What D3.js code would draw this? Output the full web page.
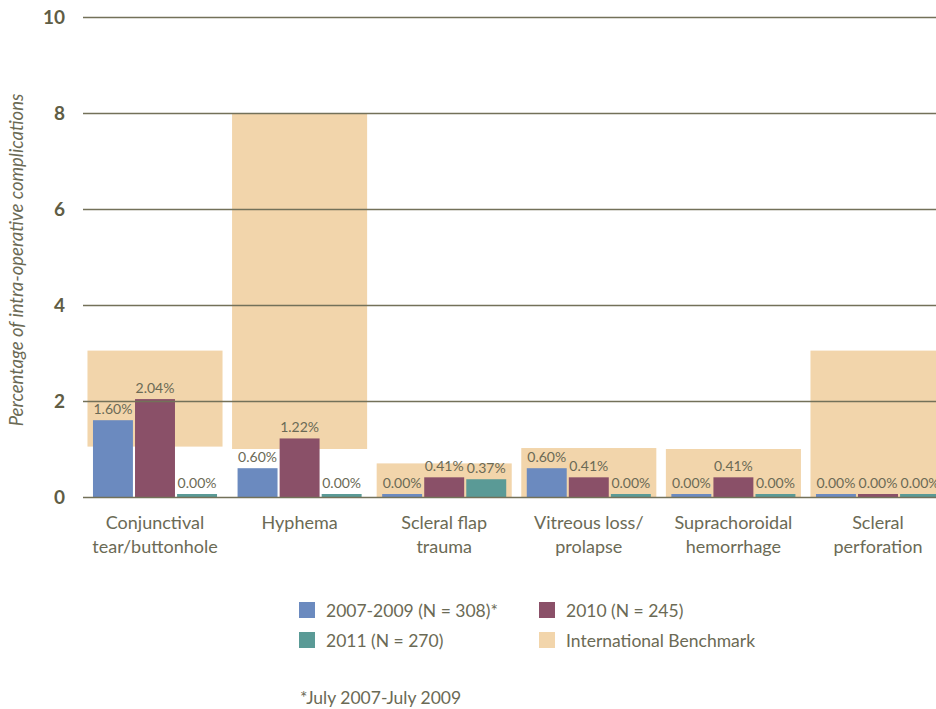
<!DOCTYPE html>
<html>
<head>
<meta charset="utf-8">
<script src="https://cdn.jsdelivr.net/npm/d3@7"></script>
<style>
  html, body { margin: 0; padding: 0; background: #fff; }
  svg { display: block; font-family: Lato, "Open Sans", sans-serif; }
</style>
</head>
<body>
<svg id="chart"></svg>
<script>
// ── DATA ───────────────────────────────────────────────────────────────
const categories = [
  ["Conjunctival", "tear/buttonhole"],
  ["Hyphema"],
  ["Scleral flap", "trauma"],
  ["Vitreous loss/", "prolapse"],
  ["Suprachoroidal", "hemorrhage"],
  ["Scleral", "perforation"]
];
const series = ["2007-2009 (N = 308)*", "2010 (N = 245)", "2011 (N = 270)"];
const vals0709 = [1.60, 0.60, 0.00, 0.60, 0.00, 0.00];
const vals2010 = [2.04, 1.22, 0.41, 0.41, 0.41, 0.00];
const vals2011 = [0.00, 0.00, 0.37, 0.00, 0.00, 0.00];
const benchLow  = [1.05, 1.0, 0, 0, 0, 0];
const benchHigh = [3.05, 8.0, 0.7, 1.02, 1.0, 3.05];
const yTicks = [0, 2, 4, 6, 8, 10];

const COLORS = ["#6b8abf", "#8a5068", "#5a9a96"];
const BENCH = "#f2d5ab";
const TEXT = "#6b6a55";

// ── DIMENSIONS ─────────────────────────────────────────────────────────
const W = 936, H = 709;
const svg = d3.select("#chart").attr("width", W).attr("height", H);

const keys = categories.map(c => c.join(" "));
const values = [vals0709, vals2010, vals2011];

const x0 = d3.scaleBand()
  .domain(keys)
  .range([82.7, 950.3])
  .paddingInner(0.066)
  .paddingOuter(0.033);

const x1 = d3.scaleBand()
  .domain(d3.range(series.length))
  .range([5.5, x0.bandwidth() - 5.5])
  .paddingInner(0.05);

const y = d3.scaleLinear().domain([0, 10]).range([497, 17]);

// ── BENCHMARK ──────────────────────────────────────────────────────────
svg.append("g").selectAll("rect")
  .data(keys)
  .join("rect")
    .attr("x", d => x0(d))
    .attr("width", x0.bandwidth())
    .attr("y", (d, i) => y(benchHigh[i]))
    .attr("height", (d, i) => y(benchLow[i]) - y(benchHigh[i]))
    .attr("fill", BENCH);

// ── BARS ───────────────────────────────────────────────────────────────
const barData = [];
keys.forEach((k, i) => {
  values.forEach((arr, s) => barData.push({ key: k, s, v: arr[i] }));
});

svg.append("g").selectAll("rect")
  .data(barData)
  .join("rect")
    .attr("x", d => x0(d.key) + x1(d.s))
    .attr("width", x1.bandwidth())
    .attr("y", d => Math.min(y(d.v), y(0) - 3))
    .attr("height", d => Math.max(y(0) - y(d.v), 3))
    .attr("fill", d => COLORS[d.s]);

// ── GRID + Y AXIS ──────────────────────────────────────────────────────
svg.append("g")
  .attr("transform", "translate(83,0)")
  .call(d3.axisLeft(y).tickValues(yTicks).tickSize(-(W - 83)).tickPadding(18))
  .call(ax => ax.select(".domain").remove())
  .call(ax => ax.selectAll(".tick line")
    .attr("stroke", "#737159")
    .attr("stroke-width", 1.6))
  .call(ax => ax.selectAll(".tick text")
    .style("font-family", "Lato, sans-serif")
    .style("font-size", "19px")
    .style("font-weight", "bold")
    .attr("fill", "#5f5d45"));

svg.append("text")
  .attr("transform", "translate(23,260) rotate(-90)")
  .attr("text-anchor", "middle")
  .style("font-size", "18.5px")
  .style("font-style", "italic")
  .attr("fill", TEXT)
  .text("Percentage of intra-operative complications");

// ── VALUE LABELS ───────────────────────────────────────────────────────
svg.append("g").selectAll("text")
  .data(barData)
  .join("text")
    .attr("x", d => x0(d.key) + x1(d.s) + x1.bandwidth() / 2)
    .attr("y", d => Math.min(y(d.v), y(0) - 3) - 6)
    .attr("text-anchor", "middle")
    .style("font-size", "14px")
    .attr("fill", TEXT)
    .text(d => d.v.toFixed(2) + "%");

// ── CATEGORY LABELS ────────────────────────────────────────────────────
const catG = svg.append("g").selectAll("text")
  .data(categories)
  .join("text")
    .attr("text-anchor", "middle")
    .attr("x", (d, i) => x0(keys[i]) + x0.bandwidth() / 2)
    .attr("y", 529)
    .style("font-size", "18px")
    .attr("fill", TEXT);

catG.selectAll("tspan")
  .data(d => d)
  .join("tspan")
    .attr("x", function() { return this.parentNode.getAttribute("x"); })
    .attr("dy", (d, i) => i === 0 ? 0 : 24)
    .text(d => d);

// ── LEGEND ─────────────────────────────────────────────────────────────
const legendItems = [
  { label: series[0], color: COLORS[0] },
  { label: series[1], color: COLORS[1] },
  { label: series[2], color: COLORS[2] },
  { label: "International Benchmark", color: BENCH }
];
const lg = svg.append("g").selectAll("g")
  .data(legendItems)
  .join("g")
    .attr("transform", (d, i) => `translate(${i % 2 === 0 ? 299 : 539},${i < 2 ? 602 : 632})`);

lg.append("rect").attr("width", 16).attr("height", 16).attr("fill", d => d.color);
lg.append("text")
  .attr("x", 27).attr("y", 14.5)
  .style("font-size", "17.5px")
  .attr("fill", TEXT)
  .text(d => d.label);

svg.append("text")
  .attr("x", 300).attr("y", 704)
  .style("font-size", "17.5px")
  .attr("fill", TEXT)
  .text("*July 2007-July 2009");
</script>
</body>
</html>
